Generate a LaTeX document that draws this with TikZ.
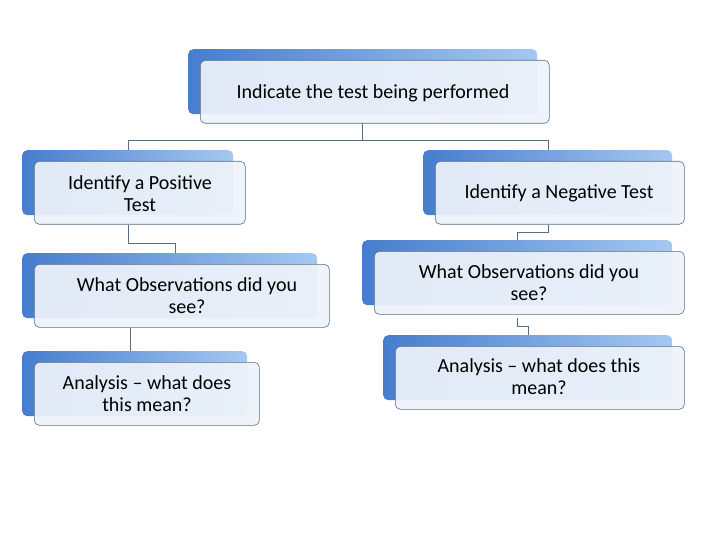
\documentclass[tikz,border=0pt]{standalone}
\usepackage{fontspec}
\setmainfont{Carlito}
\usetikzlibrary{positioning, calc}

\tikzset{
  backbox/.style={rectangle, rounded corners=5pt, anchor=north west, draw=none,
    left color={rgb,255:red,70;green,125;blue,205}, right color={rgb,255:red,165;green,200;blue,240}},
  frontbox/.style={rectangle, rounded corners=5pt, anchor=north west, draw={rgb,255:red,90;green,110;blue,130},
    fill={rgb,255:red,238;green,243;blue,250}, fill opacity=0.92, text opacity=1, line width=0.6pt},
  link/.style={draw={rgb,255:red,90;green,110;blue,130}, line width=0.6pt}
}
% back box, front box, text
\newcommand{\stepnode}[7]{%
  \node[backbox, minimum width=#4pt, minimum height=65pt] (#1b) at (#2,#3) {};
  \node[frontbox, minimum width=#4pt, minimum height=63pt] (#1) at ($(#2,#3)+(12,11)$) {};
  \node[align=center, font=\fontsize{20}{22}\selectfont] (#1t) at (#5,#6) {#7};
}

\begin{document}
\begin{tikzpicture}[x=1pt, y=-1pt]
\useasboundingbox (0,0) rectangle (720,540);
\stepnode{top}{188}{49}{349}{373}{93}{Indicate the test being performed}
\stepnode{posa}{22}{150}{211}{140}{194}{Identify a Positive\\Test}
\stepnode{nega}{423}{150}{249}{559}{193}{Identify a Negative Test}
\stepnode{posb}{22}{253}{295}{187}{296}{What Observations did you\\see?}
\stepnode{negb}{362}{240}{310}{529}{283}{What Observations did you\\see?}
\stepnode{posc}{22}{351}{225}{147}{394}{Analysis -- what does\\this mean?}
\stepnode{negc}{383}{335}{289}{539}{377}{Analysis -- what does this\\mean?}
% connectors
\draw[link] (362,123) -- (362,140) -- (128,140) -- (128,150);
\draw[link] (362,140) -- (548,140) -- (548,150);
\draw[link] (128,225) -- (128,243) -- (175,243) -- (175,253);
\draw[link] (130,328) -- (130,351);
\draw[link] (548,225) -- (548,232) -- (517,232) -- (517,240);
\draw[link] (517,318) -- (517,326) -- (528,326) -- (528,335);
\end{tikzpicture}
\end{document}
